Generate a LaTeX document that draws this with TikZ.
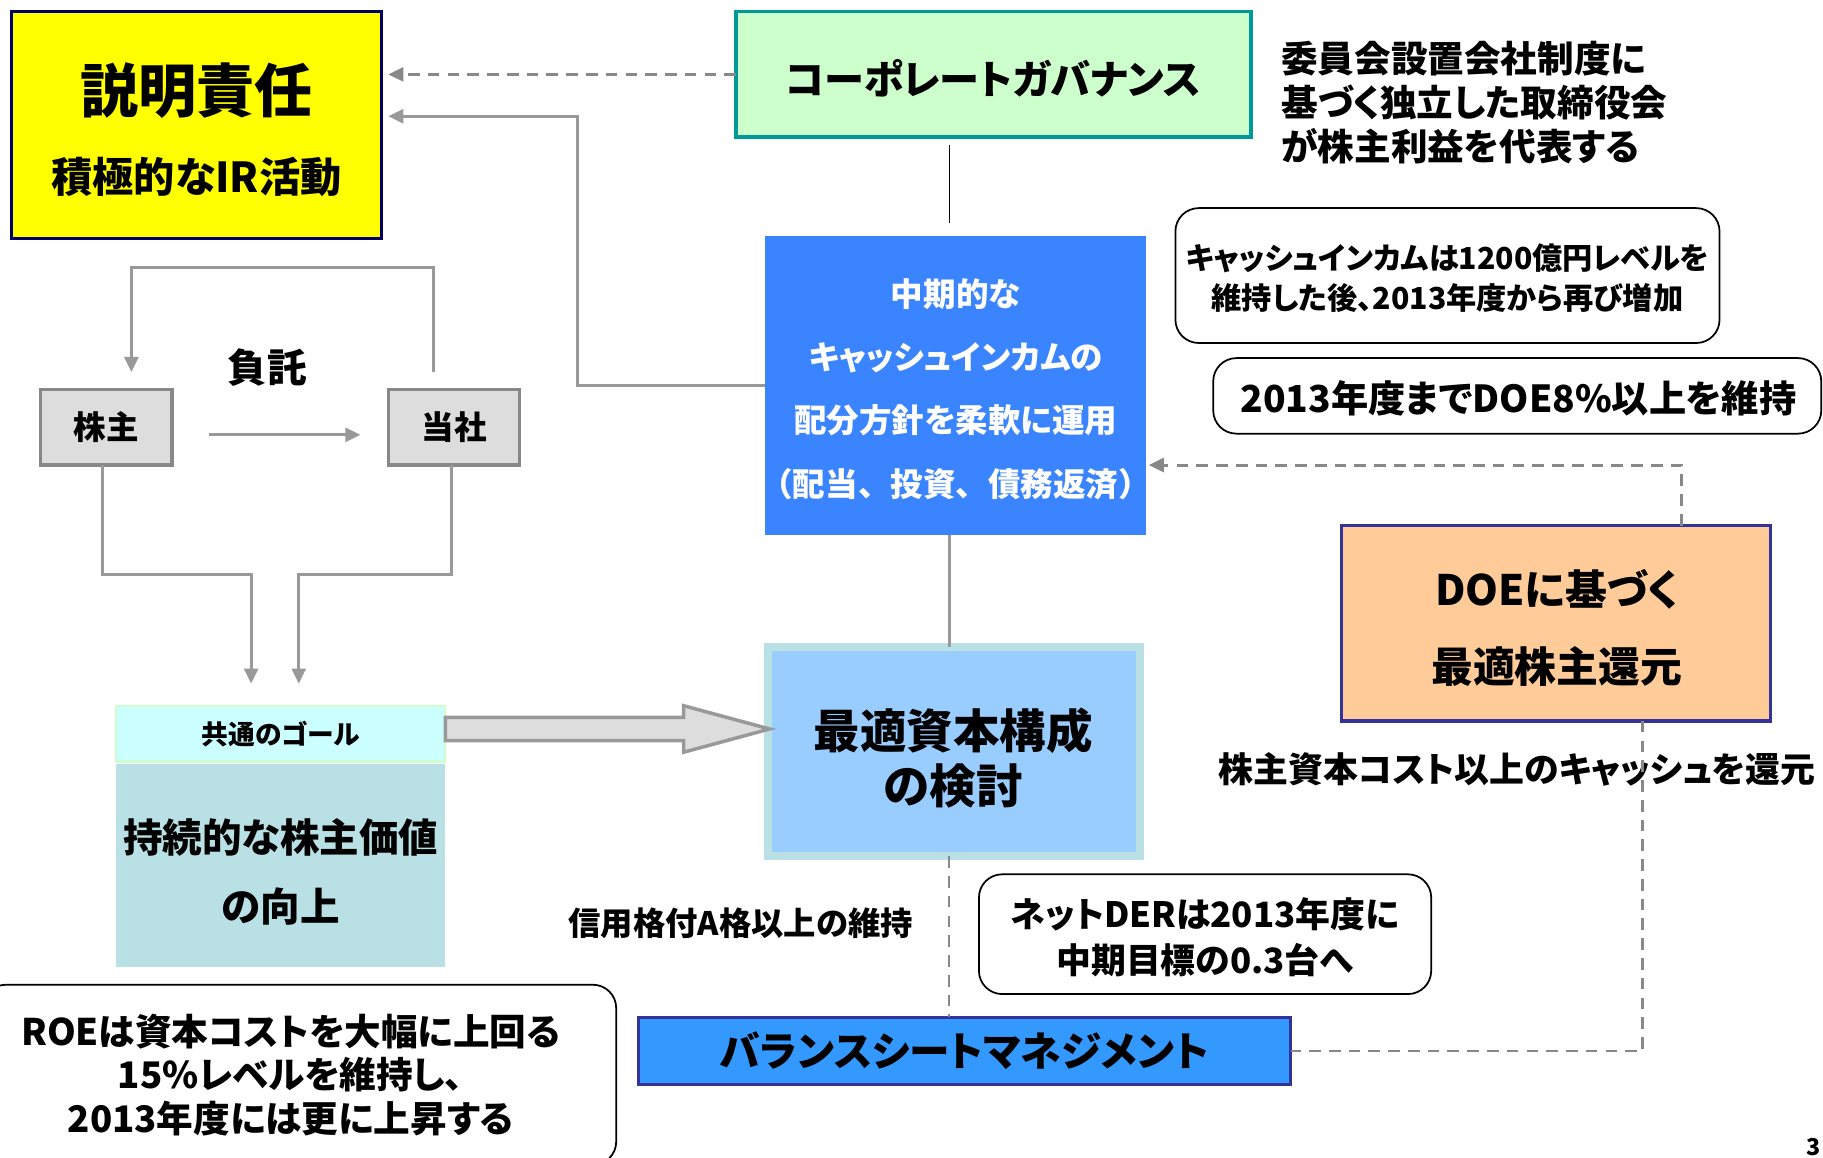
\documentclass[tikz,border=0pt]{standalone}
\usepackage{fontspec}
\setmainfont{Noto Sans CJK JP}[RawFeature=+palt]
\newfontfamily\jpn{Noto Sans CJK JP}
\usetikzlibrary{arrows.meta,calc}
\definecolor{yellowc}{HTML}{FFFF00}
\definecolor{navyc}{HTML}{000066}
\definecolor{cgfill}{HTML}{CCFFCC}
\definecolor{cgdraw}{HTML}{009999}
\definecolor{bluec}{HTML}{3B84FF}
\definecolor{doefill}{HTML}{FFCC99}
\definecolor{doedraw}{HTML}{333399}
\definecolor{gfill}{HTML}{DDDDDD}
\definecolor{gdraw}{HTML}{888888}
\definecolor{goalfill}{HTML}{CCFFFF}
\definecolor{goaldraw}{HTML}{CCFFCC}
\definecolor{valfill}{HTML}{B9E0E4}
\definecolor{macfill}{HTML}{99CCFF}
\definecolor{macdraw}{HTML}{B9E0E4}
\definecolor{bsfill}{HTML}{3399FF}
\definecolor{bsdraw}{HTML}{333399}
\definecolor{conn}{HTML}{999999}
\definecolor{dconn}{HTML}{888888}
\newcommand\fsz[2]{\fontsize{#1}{#2}\selectfont\bfseries}
\tikzset{
  every node/.style={inner sep=0pt, outer sep=0pt},
  bx/.style={line width=3pt},
  rbox/.style={draw=black, line width=1.5pt, rounded corners=20pt, fill=white},
  gline/.style={draw=conn, line width=2.5pt},
  garrow/.style={gline, -{Triangle[length=13pt,width=12pt]}},
  dline/.style={draw=dconn, line width=2.5pt, dash pattern=on 10pt off 7pt},
  darrow/.style={dline, -{Triangle[length=13pt,width=12pt]}},
  barrow/.style={draw=conn, line width=3pt, fill=gfill, line join=miter},
}
\begin{document}
\begin{tikzpicture}[x=1pt,y=-1pt]
\useasboundingbox (0,0) rectangle (1568,996);
\clip (0,0) rectangle (1568,996);

% --- boxes ---
\node[bx, draw=navyc, fill=yellowc, minimum width=318pt, minimum height=195pt] (acc) at (169,107.5) {};
\node[font=\fsz{50}{60}] (acct1) at (169,78) {説明責任};
\node[font=\fsz{35.5}{40}] (acct2) at (169,152) {積極的なIR活動};

\node[bx, draw=cgdraw, fill=cgfill, minimum width=443pt, minimum height=108pt] (cg) at (854.5,64) {};
\node[font=\fsz{34.5}{40}] (cgt) at (854.5,67) {コーポレートガバナンス};

\node[font=\fsz{31.5}{38}, anchor=west, align=left] (gov) at (1102,88) {委員会設置会社制度に\\基づく独立した取締役会\\が株主利益を代表する};

\node[fill=bluec, minimum width=328pt, minimum height=257pt] (blue) at (822,331.5) {};
\node[font=\fsz{28}{54.5}, text=white, align=center] (bluet) at (822,334.5) {中期的な\\キャッシュインカムの\\配分方針を柔軟に運用\\{\jpn\bfseries （配当、投資、債務返済）}};

\node[rbox, minimum width=468pt, minimum height=116pt] (cash) at (1245,237) {};
\node[font=\fsz{26}{34}, align=center] (casht) at (1245,239) {キャッシュインカムは1200億円レベルを\\維持した後、2013年度から再び増加};

\node[rbox, minimum width=523pt, minimum height=65pt] (doe8) at (1305,340.5) {};
\node[font=\fsz{32}{38}] (doe8t) at (1306,343) {2013年度までDOE8\%以上を維持};

\node[bx, draw=doedraw, fill=doefill, minimum width=369pt, minimum height=168pt] (doe) at (1338.5,536) {};
\node[font=\fsz{36}{66}, align=center] (doet) at (1339,540) {DOEに基づく\\最適株主還元};

\node[font=\fsz{30}{34}] (rett) at (1305,662) {株主資本コスト以上のキャッシュを還元};

\node[bx, draw=gdraw, fill=gfill, minimum width=113pt, minimum height=65pt, font=\fsz{28}{32}] (kab) at (91.5,367.5) {株主};
\node[bx, draw=gdraw, fill=gfill, minimum width=113pt, minimum height=65pt, font=\fsz{28}{32}] (tou) at (390.5,367.5) {当社};
\node[font=\fsz{34}{40}] (futaku) at (230,316) {負託};

\node[draw=goaldraw, line width=2pt, fill=goalfill, minimum width=283pt, minimum height=48pt, font=\fsz{23}{26}] (goal) at (241.5,631) {共通のゴール};
\node[fill=valfill, minimum width=283pt, minimum height=175pt] (val) at (241.5,744.5) {};
\node[font=\fsz{34}{60}, align=center] (valt) at (241.5,750) {持続的な株主価値\\の向上};

\node[draw=macdraw, line width=7pt, fill=macfill, minimum width=320pt, minimum height=180pt] (mac) at (820.5,646.5) {};
\node[font=\fsz{40}{48}, align=center] (mact) at (820,652) {最適資本構成\\の検討};

\node[font=\fsz{27.8}{30}] (credit) at (637,794) {信用格付A格以上の維持};

\node[rbox, minimum width=389pt, minimum height=103pt] (der) at (1036.5,803.5) {};
\node[font=\fsz{30}{40}, align=center] (dert) at (1036.5,806) {ネットDERは2013年度に\\中期目標の0.3台へ};

\node[bx, draw=bsdraw, fill=bsfill, minimum width=561pt, minimum height=58pt, font=\fsz{35}{40}] (bs) at (829.5,904) {バランスシートマネジメント};

\node[rbox, minimum width=545pt, minimum height=155pt] (roe) at (257.5,924.5) {};
\node[font=\fsz{31.5}{37.5}, align=center] (roet) at (250,924.5) {ROEは資本コストを大幅に上回る\\15\%レベルを維持し、\\2013年度には更に上昇する};

\node[font=\fsz{20}{24}, anchor=south east] (pg) at (1566,994) {3};

% --- connectors ---
\draw[darrow, shorten >=6pt] (cg.west) -- (acc.east |- cg.west);
\draw[garrow, shorten >=6pt] (blue.west) -- ++(-161,0) |- ([yshift=7.5pt]acc.east);
\draw[black, line width=1pt] ([xshift=-5pt]blue.north |- cg.south) ++(0,7) -- ([shift={(-5pt,11pt)}]blue.north);
\draw[gline] ([xshift=-5pt]blue.south) -- ([xshift=-5pt]blue.south |- mac.north);
\draw[dline, line width=2pt] ([xshift=-4pt]mac.south) -- ([xshift=-4pt]mac.south |- bs.north);
\draw[darrow, shorten >=2pt] ([xshift=107.5pt]doe.north) |- ([yshift=-68.5pt]blue.east);
\draw[dline] ([xshift=74.5pt]doe.south) |- (bs.east);
\draw[garrow] ([shift={(32pt,-6.5pt)}]kab.east) -- ([shift={(-24pt,-6.5pt)}]tou.west);
\draw[garrow] ([shift={(-17.5pt,15pt)}]tou.north) -- ++(0,-90) -| ([shift={(21.5pt,15pt)}]kab.north);
\draw[garrow] ([xshift=-3.5pt]kab.south) -- ++(0,94) -| ([shift={(-25.5pt,19pt)}]goal.north);
\draw[garrow] ([xshift=-2.5pt]tou.south) -- ++(0,94) -| ([shift={(15.5pt,19pt)}]goal.north);
\draw[barrow] ([yshift=14pt]goal.east) -- ++(205,0) -- ++(0,-10) -- ([shift={(1.5pt,19.5pt)}]mac.west) -- ++(-74,20) -- ++(0,-10) -- ++(-205,0) -- cycle;
\end{tikzpicture}
\end{document}
